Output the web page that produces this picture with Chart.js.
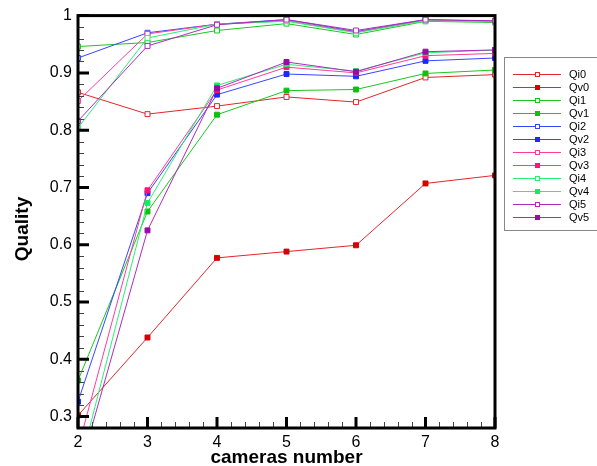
<!DOCTYPE html>
<html>
<head>
<meta charset="utf-8">
<script src="https://cdn.jsdelivr.net/npm/chart.js@4"></script>
<style>
  html, body { margin: 0; padding: 0; background: #fff; }
  #wrap { width: 597px; height: 466px; }
</style>
</head>
<body>
<div id="wrap"><canvas id="qualityChart" width="597" height="466"></canvas></div>
<script>
const cameras = [2, 3, 4, 5, 6, 7, 8];
const yTickValues = [0.3, 0.4, 0.5, 0.6, 0.7, 0.8, 0.9, 1];
const xTitle = 'cameras number';
const yTitle = 'Quality';

const qi0 = [0.866, 0.828, 0.842, 0.858, 0.849, 0.892, 0.897];
const qv0 = [0.302, 0.438, 0.577, 0.588, 0.599, 0.707, 0.721];
const qi1 = [0.946, 0.953, 0.974, 0.986, 0.967, 0.990, 0.988];
const qv1 = [0.363, 0.658, 0.827, 0.869, 0.871, 0.899, 0.905];
const qi2 = [0.926, 0.970, 0.985, 0.993, 0.972, 0.993, 0.990];
const qv2 = [0.326, 0.690, 0.862, 0.898, 0.894, 0.921, 0.926];
const qi3 = [0.851, 0.968, 0.985, 0.991, 0.971, 0.992, 0.989];
const qv3 = [0.245, 0.695, 0.870, 0.910, 0.900, 0.930, 0.934];
const qi4 = [0.804, 0.961, 0.985, 0.990, 0.970, 0.991, 0.989];
const qv4 = [0.202, 0.673, 0.878, 0.915, 0.903, 0.935, 0.940];
const qi5 = [0.816, 0.947, 0.984, 0.993, 0.974, 0.993, 0.991];
const qv5 = [0.197, 0.625, 0.873, 0.919, 0.902, 0.937, 0.940];

const colors = {
  red: '#e3262a',
  green: '#19c81e',
  blue: '#3646ff',
  pink: '#ff3c9a',
  spring: '#2af073',
  purple: '#b02ac0',
};

const seriesDefs = [
  { label: 'Qi0', data: qi0, color: colors.red, open: true },
  { label: 'Qv0', data: qv0, color: colors.red, open: false, fill: '#d80000' },
  { label: 'Qi1', data: qi1, color: colors.green, open: true },
  { label: 'Qv1', data: qv1, color: colors.green, open: false, fill: '#10c010' },
  { label: 'Qi2', data: qi2, color: colors.blue, open: true },
  { label: 'Qv2', data: qv2, color: colors.blue, open: false, fill: '#1a2aff' },
  { label: 'Qi3', data: qi3, color: colors.pink, open: true },
  { label: 'Qv3', data: qv3, color: colors.pink, open: false, fill: '#ff1478' },
  { label: 'Qi4', data: qi4, color: colors.spring, open: true },
  { label: 'Qv4', data: qv4, color: colors.spring, open: false, fill: '#10ee60' },
  { label: 'Qi5', data: qi5, color: colors.purple, open: true },
  { label: 'Qv5', data: qv5, color: colors.purple, open: false, fill: '#9a0aa8' },
];

const datasets = seriesDefs.map((s, i) => ({
  label: s.label,
  data: cameras.map((c, j) => ({ x: c, y: s.data[j] })),
  borderColor: s.color,
  borderWidth: 1,
  pointStyle: 'rect',
  pointRadius: 3.5,
  pointBorderWidth: 1,
  pointBorderColor: s.open ? s.color : s.fill,
  pointBackgroundColor: s.open ? '#ffffff' : s.fill,
  tension: 0,
  order: seriesDefs.length - i,
}));

const fontFamily = '"Liberation Sans", Arial, sans-serif';

// frame, inward ticks, axis titles and the boxed legend on the right
const framePlugin = {
  id: 'frame',
  afterDraw(chart) {
    const { ctx, chartArea: a, scales } = chart;
    const xs = scales.x, ys = scales.y;
    ctx.save();

    // minor ticks
    ctx.strokeStyle = '#444';
    ctx.lineWidth = 1;
    ctx.beginPath();
    for (let v = 0.28; v < 1; v += 0.02) {
      const y = Math.round(ys.getPixelForValue(v)) + 0.5;
      if (y > a.bottom - 2 || y < a.top + 2) continue;
      ctx.moveTo(a.left, y); ctx.lineTo(a.left + 6, y);
    }
    for (let v = 2; v < 8; v += 0.2) {
      const x = Math.round(xs.getPixelForValue(v)) + 0.5;
      if (x < a.left + 2 || x > a.right - 2) continue;
      ctx.moveTo(x, a.bottom); ctx.lineTo(x, a.bottom - 6);
    }
    ctx.stroke();

    // major ticks
    ctx.strokeStyle = '#000';
    ctx.lineWidth = 3;
    ctx.beginPath();
    yTickValues.forEach(v => {
      const y = ys.getPixelForValue(v);
      ctx.moveTo(a.left, y); ctx.lineTo(a.left + 11, y);
    });
    cameras.forEach(v => {
      const x = xs.getPixelForValue(v);
      ctx.moveTo(x, a.bottom); ctx.lineTo(x, a.bottom - 11);
    });
    ctx.stroke();

    // frame
    ctx.strokeRect(a.left, a.top, a.right - a.left, a.bottom - a.top);

    // axis titles
    ctx.fillStyle = '#000';
    ctx.font = 'bold 19px ' + fontFamily;
    ctx.textAlign = 'center';
    ctx.textBaseline = 'alphabetic';
    ctx.fillText(xTitle, (a.left + a.right) / 2, 463);
    ctx.save();
    ctx.translate(28, 229);
    ctx.rotate(-Math.PI / 2);
    ctx.fillText(yTitle, 0, 0);
    ctx.restore();

    // legend
    const lx = 504.5, ly = 57.5;
    ctx.lineWidth = 1;
    ctx.strokeStyle = '#888';
    ctx.strokeRect(lx, ly, 100, 173);
    ctx.font = '11px ' + fontFamily;
    ctx.textBaseline = 'middle';
    ctx.textAlign = 'left';
    chart.data.datasets.forEach((ds, i) => {
      const y = Math.round(74 + i * 13) + 0.5;
      ctx.strokeStyle = ds.borderColor;
      ctx.beginPath();
      ctx.moveTo(513, y); ctx.lineTo(561, y);
      ctx.stroke();
      ctx.fillStyle = ds.pointBackgroundColor;
      ctx.fillRect(535, y - 2.5, 5, 5);
      ctx.strokeStyle = ds.pointBorderColor;
      ctx.strokeRect(535.5, y - 2, 4, 4);
      ctx.fillStyle = '#000';
      ctx.fillText(ds.label, 569, y);
    });
    ctx.restore();
  }
};

const tickFont = { family: fontFamily, size: 16 };

new Chart(document.getElementById('qualityChart'), {
  type: 'line',
  data: { datasets },
  options: {
    responsive: false,
    animation: false,
    devicePixelRatio: 1,
    layout: { padding: { left: 0, top: 14, right: 102, bottom: 0 } },
    plugins: { legend: { display: false }, tooltip: { enabled: false } },
    scales: {
      x: {
        type: 'linear',
        min: 2,
        max: 8,
        grid: { display: false, drawTicks: false },
        border: { display: false },
        ticks: { stepSize: 1, color: '#000', font: tickFont, padding: 5 },
        afterFit(scale) { scale.height = 38; },
      },
      y: {
        min: 0.28,
        max: 1,
        grid: { display: false, drawTicks: false },
        border: { display: false },
        afterBuildTicks(scale) { scale.ticks = yTickValues.map(v => ({ value: v })); },
        ticks: {
          color: '#000',
          font: tickFont,
          padding: 6,
          callback: v => String(+v.toFixed(2)),
        },
        afterFit(scale) { scale.width = 78; },
      },
    },
  },
  plugins: [framePlugin],
});
</script>
</body>
</html>
